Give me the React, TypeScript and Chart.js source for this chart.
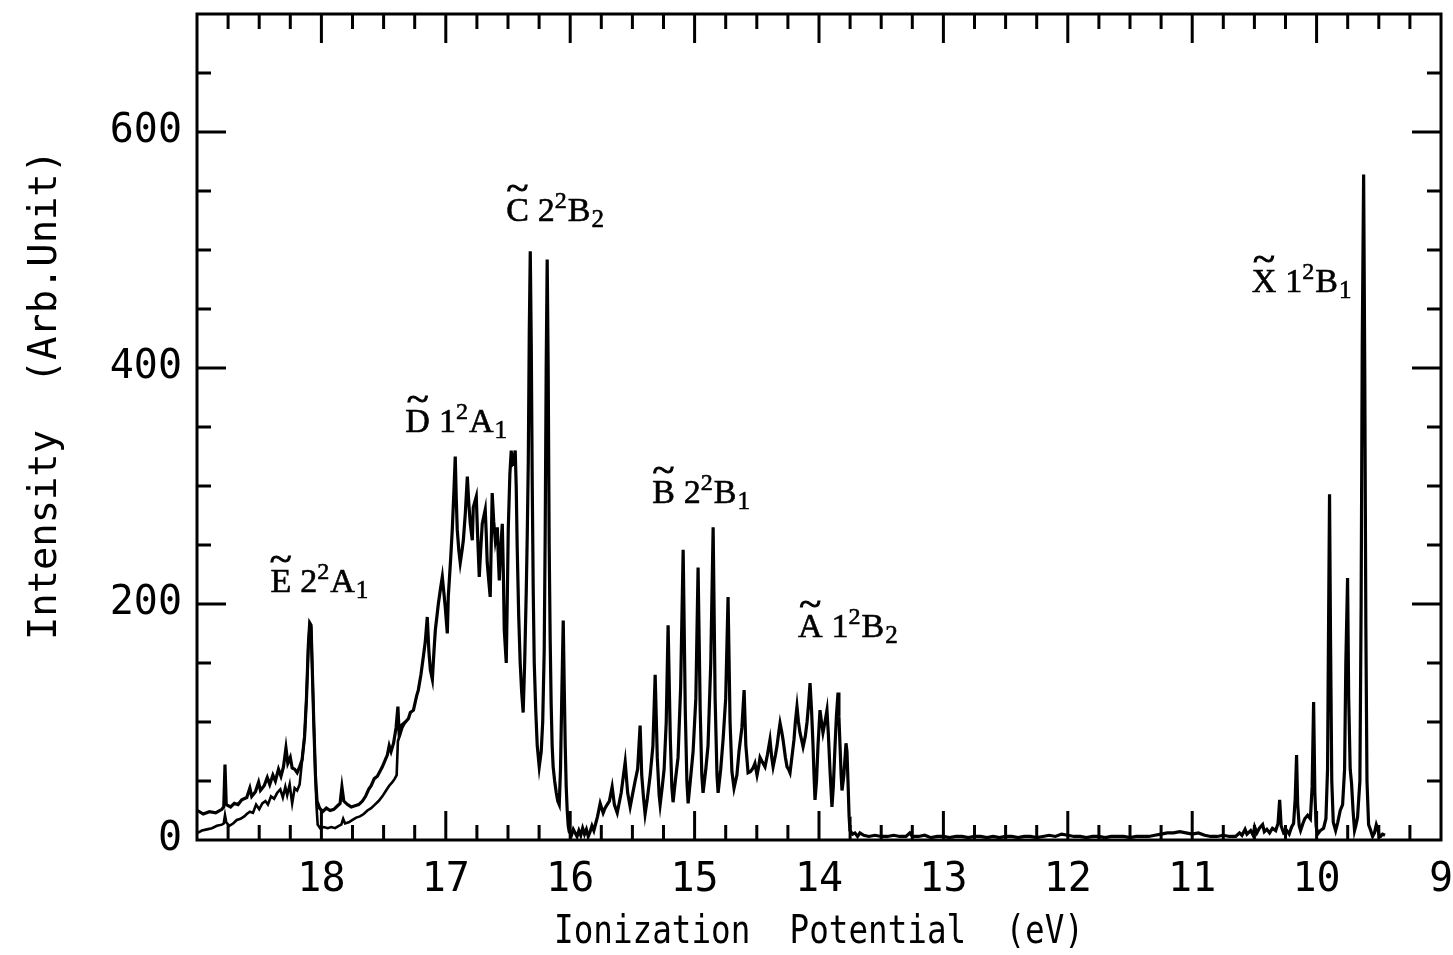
import React, { useEffect, useRef } from 'react';
import { Chart, registerables } from 'chart.js';

Chart.register(...registerables);

// ---------- axis ranges & tick labels ----------
const X_MIN = 9;
const X_MAX = 19;
const Y_MIN = 0;
const Y_MAX = 700;
const xLabelValues = [18, 17, 16, 15, 14, 13, 12, 11, 10, 9];
const yLabelValues = [0, 200, 400, 600];
const xTitle = 'Ionization  Potential  (eV)';
const yTitle = 'Intensity  (Arb.Unit)';

// ---------- main spectrum (ionization potential eV, intensity) ----------
const mainX = [
  18.996, 18.95, 18.9, 18.85, 18.8, 18.785, 18.775, 18.765, 18.73, 18.7, 18.67, 18.64, 18.6, 18.575, 18.56, 18.53,
  18.505, 18.49, 18.46, 18.435, 18.415, 18.39, 18.37, 18.345, 18.325, 18.305, 18.285, 18.27, 18.25, 18.235, 18.215,
  18.195, 18.175, 18.155, 18.135, 18.12, 18.105, 18.094, 18.083, 18.072, 18.06, 18.048, 18.035, 18.015, 17.99, 17.96,
  17.93, 17.9, 17.87, 17.85, 17.835, 17.82, 17.79, 17.76, 17.73, 17.7, 17.67, 17.645, 17.62, 17.6, 17.575, 17.55,
  17.53, 17.51, 17.49, 17.47, 17.455, 17.44, 17.42, 17.4, 17.385, 17.375, 17.36, 17.325, 17.3, 17.285, 17.26, 17.235,
  17.221, 17.2, 17.181, 17.165, 17.149, 17.136, 17.124, 17.108, 17.095, 17.084, 17.06, 17.044, 17.028, 17.016, 17.004,
  16.988, 16.98, 16.96, 16.948, 16.935, 16.924, 16.916, 16.908, 16.895, 16.884, 16.87, 16.859, 16.843, 16.827, 16.815,
  16.803, 16.787, 16.779, 16.755, 16.745, 16.731, 16.72, 16.707, 16.683, 16.675, 16.667, 16.655, 16.643, 16.635, 16.627,
  16.615, 16.602, 16.586, 16.578, 16.57, 16.56, 16.546, 16.538, 16.53, 16.514, 16.505, 16.498, 16.485, 16.474, 16.466,
  16.458, 16.45, 16.442, 16.434, 16.426, 16.414, 16.402, 16.39, 16.378, 16.366, 16.353, 16.345, 16.337, 16.329, 16.321,
  16.313, 16.305, 16.297, 16.289, 16.277, 16.265, 16.249, 16.233, 16.221, 16.209, 16.201, 16.193, 16.185, 16.177, 16.169,
  16.161, 16.153, 16.145, 16.137, 16.125, 16.112, 16.1, 16.088, 16.078, 16.068, 16.056, 16.048, 16.04, 16.032, 16.024,
  16.016, 16.008, 15.99, 15.975, 15.96, 15.945, 15.93, 15.915, 15.9, 15.885, 15.87, 15.855, 15.84, 15.825, 15.81,
  15.795, 15.78, 15.759, 15.735, 15.72, 15.703, 15.685, 15.663, 15.645, 15.622, 15.605, 15.59, 15.558, 15.538, 15.518,
  15.5, 15.478, 15.458, 15.438, 15.425, 15.41, 15.398, 15.38, 15.357, 15.335, 15.317, 15.3, 15.285, 15.277, 15.26,
  15.245, 15.228, 15.213, 15.195, 15.183, 15.173, 15.155, 15.133, 15.112, 15.092, 15.075, 15.062, 15.052, 15.03, 15.012,
  14.99, 14.972, 14.955, 14.942, 14.932, 14.91, 14.892, 14.87, 14.851, 14.835, 14.82, 14.811, 14.79, 14.771, 14.75,
  14.731, 14.715, 14.7, 14.683, 14.66, 14.643, 14.62, 14.602, 14.588, 14.57, 14.55, 14.53, 14.515, 14.498, 14.485,
  14.474, 14.455, 14.434, 14.415, 14.394, 14.38, 14.369, 14.35, 14.337, 14.325, 14.313, 14.3, 14.289, 14.27, 14.257,
  14.245, 14.233, 14.218, 14.201, 14.19, 14.177, 14.165, 14.153, 14.14, 14.128, 14.11, 14.096, 14.084, 14.072, 14.06,
  14.048, 14.04, 14.032, 14.02, 14.008, 13.992, 13.98, 13.968, 13.952, 13.936, 13.925, 13.912, 13.896, 13.885, 13.871,
  13.86, 13.847, 13.84, 13.831, 13.822, 13.815, 13.8, 13.783, 13.775, 13.767, 13.758, 13.751, 13.73, 13.711, 13.69,
  13.671, 13.64, 13.6, 13.55, 13.5, 13.45, 13.4, 13.35, 13.3, 13.27, 13.25, 13.2, 13.15, 13.1, 13.05, 13.0, 12.95,
  12.9, 12.85, 12.8, 12.75, 12.7, 12.65, 12.6, 12.55, 12.5, 12.45, 12.4, 12.35, 12.3, 12.25, 12.2, 12.15, 12.1, 12.05,
  12.0, 11.95, 11.9, 11.85, 11.8, 11.75, 11.7, 11.65, 11.6, 11.55, 11.5, 11.45, 11.4, 11.35, 11.3, 11.25, 11.2, 11.15,
  11.1, 11.05, 11.0, 10.95, 10.9, 10.85, 10.8, 10.75, 10.7, 10.65, 10.62, 10.6, 10.575, 10.56, 10.53, 10.51, 10.498,
  10.48, 10.46, 10.434, 10.42, 10.4, 10.378, 10.355, 10.329, 10.31, 10.297, 10.285, 10.265, 10.24, 10.22, 10.201,
  10.185, 10.172, 10.161, 10.152, 10.14, 10.129, 10.11, 10.095, 10.072, 10.05, 10.036, 10.024, 10.014, 10.004, 9.992,
  9.97, 9.944, 9.925, 9.912, 9.904, 9.896, 9.888, 9.878, 9.866, 9.847, 9.83, 9.81, 9.791, 9.775, 9.765, 9.751, 9.742,
  9.73, 9.719, 9.707, 9.695, 9.685, 9.671, 9.652, 9.642, 9.633, 9.622, 9.613, 9.604, 9.595, 9.582, 9.565, 9.55, 9.535,
  9.52, 9.51, 9.495, 9.486, 9.47, 9.45,
];
const mainY = [
  25, 22, 24, 23, 26, 28, 64, 30, 28, 31, 30, 34, 36, 44, 37, 41,
  49, 42, 46, 53, 47, 55, 50, 60, 54, 62, 78, 65, 70, 61, 60,
  57, 62, 68, 88, 120, 165, 184, 182, 140, 95, 55, 33, 27, 24, 27,
  25, 26, 29, 31, 45, 33, 30, 28, 29, 30, 33, 37, 43, 46, 52, 54,
  58, 62, 67, 72, 80, 75, 82, 95, 113, 90, 97, 100, 103, 108, 110, 122,
  127, 140, 155, 168, 189, 160, 144, 136, 160, 178, 200, 212, 223, 210, 197,
  175, 206, 240, 263, 295, 325, 290, 263, 245, 235, 245, 254, 277, 308, 285,
  268, 254, 282, 291, 260, 223, 245, 268, 280, 260, 235, 220, 206, 250, 294,
  270, 254, 265, 240, 220, 245, 268, 230, 178, 150, 210, 263, 310, 330, 318,
  319, 325, 330, 300, 248, 190, 150, 125, 108, 150, 212, 260, 320, 430, 499,
  420, 300, 210, 150, 110, 80, 62, 75, 100, 160, 260, 400, 492, 400, 250,
  170, 115, 80, 62, 50, 40, 33, 30, 60, 120, 186, 130, 80, 45, 25,
  12, 7, 4, 9, 6, 3, 8, 4, 10, 5, 9, 3, 7, 12, 8,
  14, 20, 31, 23, 27, 30, 33, 45, 30, 23, 32, 40, 66, 40, 28,
  38, 50, 60, 97, 55, 35, 22, 35, 55, 80, 140, 70, 38, 30, 45,
  60, 100, 182, 85, 45, 32, 50, 70, 130, 246, 110, 50, 31, 55, 75,
  120, 231, 110, 55, 40, 60, 80, 150, 265, 120, 55, 40, 60, 85, 120,
  206, 100, 58, 44, 55, 75, 95, 127, 80, 57, 58, 61, 65, 55, 62,
  70, 66, 62, 72, 85, 70, 62, 72, 80, 90, 99, 92, 85, 70, 62,
  60, 57, 70, 85, 100, 113, 100, 91, 85, 79, 88, 100, 115, 133, 110,
  80, 55, 34, 50, 80, 110, 100, 91, 100, 110, 90, 60, 28, 45, 80,
  105, 125, 105, 80, 55, 42, 55, 82, 75, 50, 20, 8, 5, 6, 3,
  6, 4, 3, 4, 3, 3, 4, 3, 3, 6, 3, 3, 4, 2, 3, 3, 2,
  3, 3, 2, 3, 3, 2, 3, 2, 3, 3, 2, 3, 3, 2, 3, 4, 3, 5,
  4, 3, 3, 2, 3, 3, 2, 3, 3, 3, 2, 3, 3, 3, 4, 5, 6, 6,
  7, 6, 5, 6, 4, 3, 3, 4, 3, 3, 6, 4, 9, 5, 8, 4, 11,
  6, 10, 13, 7, 9, 6, 10, 8, 14, 34, 12, 6, 8, 5, 11,
  14, 35, 72, 30, 12, 8, 14, 18, 21, 18, 45, 117, 40, 12, 5,
  8, 10, 18, 60, 180, 293, 170, 50, 15, 8, 15, 25, 30, 60, 150, 222, 120,
  60, 48, 25, 8, 12, 19, 50, 200, 420, 564, 400, 180, 50, 13, 8, 3, 6,
  13, 10, 3, 3, 5, 4,
];

// ---------- second (lower) scan over the high-energy end ----------
const lowerX = [
  18.996, 18.96, 18.92, 18.88, 18.84, 18.8, 18.785, 18.775, 18.765, 18.74, 18.71, 18.68, 18.65, 18.62, 18.6, 18.575,
  18.55, 18.525, 18.5, 18.475, 18.45, 18.43, 18.405, 18.38, 18.355, 18.33, 18.31, 18.29, 18.275, 18.255, 18.235,
  18.215, 18.195, 18.175, 18.155, 18.135, 18.12, 18.105, 18.094, 18.083, 18.072, 18.06, 18.048, 18.04, 18.03, 18.01,
  17.98, 17.95, 17.92, 17.89, 17.86, 17.84, 17.825, 17.81, 17.78, 17.75, 17.72, 17.69, 17.66, 17.63, 17.6, 17.57,
  17.54, 17.51, 17.48, 17.455, 17.43, 17.41, 17.395, 17.385, 17.37, 17.35, 17.325,
];
const lowerY = [
  6, 8, 9, 10, 12, 13, 14, 21, 15, 12, 14, 17, 18, 20, 22, 24,
  23, 30, 26, 31, 33, 30, 37, 35, 40, 43, 36, 45, 38, 47, 31,
  44, 42, 47, 68, 88, 120, 165, 182, 180, 140, 95, 55, 30, 13, 10,
  11, 10, 11, 10, 12, 13, 18, 14, 15, 17, 19, 20, 22, 25, 27, 30,
  33, 37, 42, 46, 49, 52, 55, 84, 88, 95, 100,
];

// ---------- band labels (state, level, multiplicity, symmetry, subscript) ----------
const bandStates = ['E', 'D', 'C', 'B', 'A', 'X'];
const bandLevels = ['2', '1', '2', '2', '1', '1'];
const bandMultiplicity = ['2', '2', '2', '2', '2', '2'];
const bandSymmetry = ['A', 'A', 'B', 'B', 'B', 'B'];
const bandSubscript = ['1', '1', '2', '1', '2', '1'];

// label anchor (left end of text, baseline) in axis units — layout only
const labelAnchors = [
  [18.41, 210],
  [17.325, 346],
  [16.515, 525],
  [15.341, 286],
  [14.169, 172],
  [10.522, 464],
];

const MONO = '"DejaVu Sans Mono", monospace';
const SERIF = '"Liberation Serif", "Times New Roman", serif';

function isInt(v: number) {
  return Math.abs(v - Math.round(v)) < 1e-6;
}

const framePlugin = {
  id: 'frameTicksLabels',
  afterDatasetsDraw(chart: any) {
    const { ctx, chartArea: a, scales } = chart;
    const xs = scales.x;
    const ys = scales.y;
    ctx.save();
    ctx.strokeStyle = '#000';
    ctx.fillStyle = '#000';
    ctx.lineWidth = 3;
    ctx.lineCap = 'butt';
    ctx.strokeRect(a.left, a.top, a.right - a.left, a.bottom - a.top);

    ctx.beginPath();
    xs.ticks.forEach((t: any) => {
      const px = xs.getPixelForValue(t.value);
      if (px <= a.left + 2 || px >= a.right - 2) return;
      const len = isInt(t.value) ? 29 : 15;
      ctx.moveTo(px, a.bottom);
      ctx.lineTo(px, a.bottom - len);
      ctx.moveTo(px, a.top);
      ctx.lineTo(px, a.top + len);
    });
    ys.ticks.forEach((t: any) => {
      const py = ys.getPixelForValue(t.value);
      if (py <= a.top + 2 || py >= a.bottom - 2) return;
      const len = yLabelValues.includes(Math.round(t.value)) && isInt(t.value) ? 29 : 14;
      ctx.moveTo(a.left, py);
      ctx.lineTo(a.left + len, py);
      ctx.moveTo(a.right, py);
      ctx.lineTo(a.right - len, py);
    });
    ctx.stroke();

    // band labels
    ctx.textAlign = 'left';
    ctx.textBaseline = 'alphabetic';
    bandStates.forEach((st, i) => {
      let x = xs.getPixelForValue(labelAnchors[i][0]);
      const y = ys.getPixelForValue(labelAnchors[i][1]);
      ctx.font = `34px ${SERIF}`;
      ctx.fillText(st, x, y);
      ctx.lineWidth = 0.6;
      ctx.strokeText(st, x, y);
      const wSt = ctx.measureText(st).width;
      // tilde over the state letter
      ctx.save();
      ctx.font = `30px ${SERIF}`;
      const tw = ctx.measureText('~').width;
      ctx.translate(x + wSt / 2, y - 21);
      ctx.scale(1.35, 1.2);
      ctx.fillText('~', -tw / 2, 0);
      ctx.lineWidth = 0.8;
      ctx.strokeText('~', -tw / 2, 0);
      ctx.restore();
      x += wSt + 9;
      ctx.font = `34px ${SERIF}`;
      ctx.fillText(bandLevels[i], x, y);
      ctx.strokeText(bandLevels[i], x, y);
      x += ctx.measureText(bandLevels[i]).width;
      ctx.font = `24px ${SERIF}`;
      ctx.fillText(bandMultiplicity[i], x, y - 13);
      ctx.strokeText(bandMultiplicity[i], x, y - 13);
      x += ctx.measureText(bandMultiplicity[i]).width + 1;
      ctx.font = `34px ${SERIF}`;
      ctx.fillText(bandSymmetry[i], x, y);
      ctx.strokeText(bandSymmetry[i], x, y);
      x += ctx.measureText(bandSymmetry[i]).width + 1;
      ctx.font = `25px ${SERIF}`;
      ctx.fillText(bandSubscript[i], x, y + 6);
      ctx.strokeText(bandSubscript[i], x, y + 6);
    });

    // axis titles
    ctx.font = `39px ${MONO}`;
    ctx.textAlign = 'center';
    const wx = ctx.measureText(xTitle).width;
    ctx.save();
    ctx.translate((a.left + a.right) / 2, a.bottom + 103);
    ctx.scale(530 / wx, 1);
    ctx.fillText(xTitle, 0, 0);
    ctx.restore();

    const wy = ctx.measureText(yTitle).width;
    ctx.save();
    ctx.translate(a.left - 141, a.top + 381);
    ctx.rotate(-Math.PI / 2);
    ctx.scale(490 / wy, 1);
    ctx.fillText(yTitle, 0, 0);
    ctx.restore();

    ctx.restore();
  },
};

function zeroPadding(s: any) {
  s.paddingLeft = 0;
  s.paddingRight = 0;
  s.paddingTop = 0;
  s.paddingBottom = 0;
}

export default function App() {
  const canvasRef = useRef<HTMLCanvasElement | null>(null);

  useEffect(() => {
    const canvas = canvasRef.current;
    if (!canvas) return;
    const chart = new Chart(canvas, {
      type: 'line',
      data: {
        datasets: [
          {
            label: 'spectrum',
            data: mainX.map((x, i) => ({ x, y: mainY[i] })),
            borderColor: '#000',
            borderWidth: 3.2,
            pointRadius: 0,
            tension: 0,
            fill: false,
          },
          {
            label: 'second scan',
            data: lowerX.map((x, i) => ({ x, y: lowerY[i] })),
            borderColor: '#000',
            borderWidth: 2.6,
            pointRadius: 0,
            tension: 0,
            fill: false,
          },
        ],
      },
      options: {
        animation: false,
        responsive: false,
        events: [],
        layout: { padding: { top: 14, right: 12, left: 0, bottom: 0 } },
        plugins: {
          legend: { display: false },
          tooltip: { enabled: false },
          title: { display: false },
        },
        scales: {
          x: {
            type: 'linear',
            min: X_MIN,
            max: X_MAX,
            reverse: true,
            grid: { display: false, drawTicks: false },
            border: { display: false },
            afterFit: (s: any) => {
              s.height = 115;
              zeroPadding(s);
            },
            ticks: {
              stepSize: 0.25,
              maxTicksLimit: 100,
              autoSkip: false,
              maxRotation: 0,
              minRotation: 0,
              padding: 17,
              color: '#000',
              font: { family: MONO, size: 40 },
              callback: (v: any) => {
                const n = Number(v);
                return isInt(n) && xLabelValues.includes(Math.round(n)) ? String(Math.round(n)) : '';
              },
            },
          },
          y: {
            type: 'linear',
            min: Y_MIN,
            max: Y_MAX,
            grid: { display: false, drawTicks: false },
            border: { display: false },
            afterFit: (s: any) => {
              s.width = 197;
              zeroPadding(s);
            },
            ticks: {
              stepSize: 50,
              maxTicksLimit: 100,
              autoSkip: false,
              padding: 15,
              color: '#000',
              font: { family: MONO, size: 40 },
              callback: (v: any) => {
                const n = Number(v);
                return isInt(n) && yLabelValues.includes(Math.round(n)) ? String(Math.round(n)) : '';
              },
            },
          },
        },
      },
      plugins: [framePlugin],
    });
    return () => chart.destroy();
  }, []);

  return (
    <div style={{ position: 'absolute', left: 0, top: 0, width: 1453, height: 955, background: '#fff' }}>
      <canvas ref={canvasRef} width={1453} height={955} style={{ display: 'block' }} />
    </div>
  );
}
